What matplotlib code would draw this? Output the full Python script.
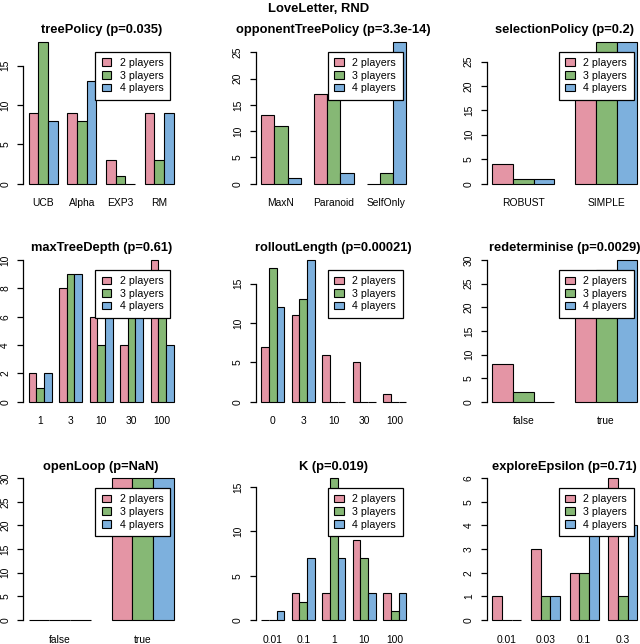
import matplotlib
matplotlib.use("Agg")
import matplotlib.pyplot as plt

plt.rcParams["font.family"] = ["Liberation Sans", "DejaVu Sans"]

players = ["2 players", "3 players", "4 players"]
colors = ["#E495A5", "#86B875", "#7DB0DD"]

# counts per category, one list per player count (2, 3, 4 players)
tree_policy_cats = ["UCB", "Alpha", "EXP3", "RM"]
tree_policy_vals = [[9, 9, 3, 9], [18, 8, 1, 3], [8, 13, 0, 9]]

opp_policy_cats = ["MaxN", "Paranoid", "SelfOnly"]
opp_policy_vals = [[13, 17, 0], [11, 17, 2], [1, 2, 27]]

selection_cats = ["ROBUST", "SIMPLE"]
selection_vals = [[4, 26], [1, 29], [1, 29]]

depth_cats = ["1", "3", "10", "30", "100"]
depth_vals = [[2, 8, 6, 4, 10], [1, 9, 4, 8, 8], [2, 9, 7, 8, 4]]

rollout_cats = ["0", "3", "10", "30", "100"]
rollout_vals = [[7, 11, 6, 5, 1], [17, 13, 0, 0, 0], [12, 18, 0, 0, 0]]

redet_cats = ["false", "true"]
redet_vals = [[8, 22], [2, 28], [0, 30]]

openloop_cats = ["false", "true"]
openloop_vals = [[0, 30], [0, 30], [0, 30]]

k_cats = ["0.01", "0.1", "1", "10", "100"]
k_vals = [[0, 3, 3, 9, 3], [0, 2, 16, 7, 1], [1, 7, 7, 3, 3]]

eps_cats = ["0.01", "0.03", "0.1", "0.3"]
eps_vals = [[1, 3, 2, 6], [0, 1, 2, 1], [0, 1, 5, 4]]

panels = [
    ("treePolicy (p=0.035)", tree_policy_cats, tree_policy_vals, 5),
    ("opponentTreePolicy (p=3.3e-14)", opp_policy_cats, opp_policy_vals, 5),
    ("selectionPolicy (p=0.2)", selection_cats, selection_vals, 5),
    ("maxTreeDepth (p=0.61)", depth_cats, depth_vals, 2),
    ("rolloutLength (p=0.00021)", rollout_cats, rollout_vals, 5),
    ("redeterminise (p=0.0029)", redet_cats, redet_vals, 5),
    ("openLoop (p=NaN)", openloop_cats, openloop_vals, 5),
    ("K (p=0.019)", k_cats, k_vals, 5),
    ("exploreEpsilon (p=0.71)", eps_cats, eps_vals, 1),
]

W, H = 640, 644
fig = plt.figure(figsize=(W / 100, H / 100), dpi=100)

col_left = [22.9, 255.5, 486.5]
row_top = [36.3, 254.4, 472.6]
pw, ph = 156.5, 153.0

for i, (title, cats, vals, step) in enumerate(panels):
    r, c = divmod(i, 3)
    L, T = col_left[c], row_top[r]
    ax = fig.add_axes([L / W, 1 - (T + ph) / H, pw / W, ph / H])
    n = len(cats)
    for j in range(3):
        xs = [1 + 4 * g + j for g in range(n)]
        ax.bar(xs, vals[j], width=1, align="edge", color=colors[j],
               edgecolor="black", linewidth=0.8, label=players[j])
    span = 4 * n - 1
    ax.set_xlim(1 - 0.04 * span, 4 * n + 0.04 * span)
    ymax = max(max(v) for v in vals)
    ax.set_ylim(-0.04 * ymax, 1.04 * ymax)

    ticks = list(range(0, ymax + 1, step))
    ax.set_yticks(ticks)
    ax.set_xticks([2.5 + 4 * g for g in range(n)])
    ax.set_xticklabels(cats)
    ax.tick_params(axis="x", length=0, pad=6.5, labelsize=7.4)
    ax.tick_params(axis="y", length=4.3, width=0.9, pad=4.8, labelsize=7.4)
    for lab in ax.get_yticklabels():
        lab.set_rotation(90)
        lab.set_va("center")
    for s in ["top", "right", "bottom"]:
        ax.spines[s].set_visible(False)
    ax.spines["left"].set_bounds(0, ticks[-1])
    ax.spines["left"].set_linewidth(0.9)
    ax.set_title(title, fontsize=9.3, fontweight="bold", pad=0.7)

    leg = ax.legend(loc="upper right",
                    bbox_to_anchor=((L + pw - 9.4) / W, 1 - (T + 15.2) / H),
                    bbox_transform=fig.transFigure, borderaxespad=0,
                    fontsize=7.7, handlelength=0.9, handleheight=0.7,
                    handletextpad=0.8, labelspacing=0.25, borderpad=0.6,
                    fancybox=False, framealpha=1, edgecolor="black")
    leg.get_frame().set_linewidth(0.9)

fig.text(319 / W, 1 - 12 / H, "LoveLetter, RND", ha="center", va="baseline",
         fontsize=9.4, fontweight="bold")

fig.savefig("out.png", dpi=100)
